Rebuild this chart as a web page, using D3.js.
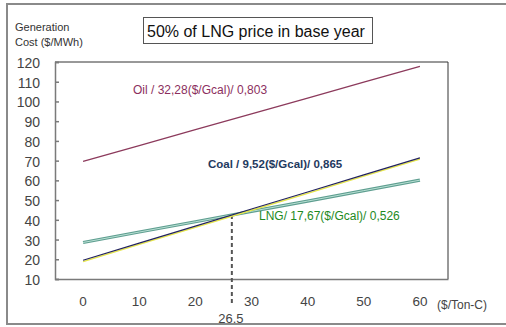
<!DOCTYPE html>
<html>
<head>
<meta charset="utf-8">
<script src="https://cdn.jsdelivr.net/npm/d3@7"></script>
<style>
  body { margin: 0; background: #fff; }
  text { font-family: "Liberation Sans", Arial, sans-serif; }
</style>
</head>
<body>
<div id="chart"></div>
<script>
const carbonPrice = [0, 10, 20, 30, 40, 50, 60];
const oilCost = [69.6, 77.6, 85.7, 93.7, 101.7, 109.8, 117.8];
const coalCost = [19.5, 28.2, 36.8, 45.5, 54.1, 62.8, 71.4];
const lngCost = [28.5, 33.8, 39.0, 44.3, 49.5, 54.8, 60.1];
const yTicks = [10, 20, 30, 40, 50, 60, 70, 80, 90, 100, 110, 120];
const breakEven = {x: 26.5, y: 42.4};

const chartWidth = 506;
const chartHeight = 327;
const plot = {left: 55, right: 448, top: 62, bottom: 279};

const svg = d3.select('#chart')
    .append('svg')
    .attr('width', chartWidth)
    .attr('height', chartHeight);

// outer frame
svg.append('rect')
    .attr('x', 7).attr('y', 4)
    .attr('width', 510).attr('height', 320)
    .attr('fill', 'none')
    .attr('stroke', '#8a8a8a')
    .attr('stroke-width', 2);

// category axis: 7 bands, points in the middle of each
const xScale = d3.scaleLinear()
    .domain([-5, 65])
    .range([plot.left, plot.right]);

const yScale = d3.scaleLinear()
    .domain([10, 120])
    .range([plot.bottom, plot.top]);

// plot border (top/right dark)
svg.append('path')
    .attr('d', `M${plot.left},${plot.top}H${plot.right}V${plot.bottom}`)
    .attr('fill', 'none')
    .attr('stroke', '#333')
    .attr('stroke-width', 1);

// y axis
const yAxis = svg.append('g')
    .attr('transform', `translate(${plot.left},0)`)
    .call(d3.axisRight(yScale).tickValues(yTicks).tickSize(4).tickFormat(''));
yAxis.select('.domain').attr('stroke', '#7a7a7a').attr('stroke-width', 1.5);
yAxis.selectAll('.tick line').attr('stroke', '#7a7a7a').attr('stroke-width', 1.5);

svg.selectAll('.ylab')
    .data(yTicks)
    .enter()
    .append('text')
    .attr('class', 'ylab')
    .attr('x', 40)
    .attr('y', d => yScale(d) + 6)
    .attr('text-anchor', 'end')
    .attr('font-size', 14)
    .attr('fill', '#444')
    .text(d => d);

// x axis
const xAxis = svg.append('g')
    .attr('transform', `translate(0,${plot.bottom})`)
    .call(d3.axisBottom(xScale).tickValues([]).tickSizeOuter(0));
xAxis.select('.domain').attr('stroke', '#7a7a7a').attr('stroke-width', 1.5);

svg.selectAll('.xlab')
    .data(carbonPrice)
    .enter()
    .append('text')
    .attr('class', 'xlab')
    .attr('x', d => xScale(d))
    .attr('y', 306)
    .attr('text-anchor', 'middle')
    .attr('font-size', 13.5)
    .attr('fill', '#444')
    .text(d => d);

svg.append('text')
    .attr('x', 437).attr('y', 309)
    .attr('font-size', 12)
    .attr('fill', '#444')
    .text('($/Ton-C)');

// break-even marker
svg.append('line')
    .attr('x1', xScale(breakEven.x)).attr('x2', xScale(breakEven.x))
    .attr('y1', yScale(breakEven.y)).attr('y2', 306)
    .attr('stroke', '#555')
    .attr('stroke-width', 2)
    .attr('stroke-dasharray', '4,3');

svg.append('text')
    .attr('x', xScale(breakEven.x) - 1).attr('y', 323)
    .attr('text-anchor', 'middle')
    .attr('font-size', 13)
    .attr('fill', '#444')
    .text(breakEven.x);

const line = d3.line()
    .x((d, i) => xScale(carbonPrice[i]))
    .y(d => yScale(d));

// LNG: double teal line
svg.append('path')
    .attr('d', line(lngCost))
    .attr('fill', 'none')
    .attr('stroke', '#5e9e90')
    .attr('stroke-width', 3.2);
svg.append('path')
    .attr('d', line(lngCost))
    .attr('fill', 'none')
    .attr('stroke', '#b9e0d4')
    .attr('stroke-width', 1);

// coal: navy with yellow underline
svg.append('path')
    .attr('d', line(coalCost))
    .attr('transform', 'translate(0,1.3)')
    .attr('fill', 'none')
    .attr('stroke', '#e6e64a')
    .attr('stroke-width', 1.4);
svg.append('path')
    .attr('d', line(coalCost))
    .attr('fill', 'none')
    .attr('stroke', '#23235e')
    .attr('stroke-width', 1.2);

// oil
svg.append('path')
    .attr('d', line(oilCost))
    .attr('fill', 'none')
    .attr('stroke', '#8c3a5c')
    .attr('stroke-width', 1.3);

// series labels
svg.append('text')
    .attr('x', 133).attr('y', 94)
    .attr('font-size', 12)
    .attr('fill', '#8c2f5e')
    .text('Oil / 32,28($/Gcal)/ 0,803');

svg.append('text')
    .attr('x', 208).attr('y', 168)
    .attr('font-size', 11.5)
    .attr('font-weight', 'bold')
    .attr('fill', '#1f3a60')
    .text('Coal / 9,52($/Gcal)/ 0,865');

svg.append('text')
    .attr('x', 259).attr('y', 220)
    .attr('font-size', 12)
    .attr('fill', '#1e8a1e')
    .text('LNG/ 17,67($/Gcal)/ 0,526');

// y axis title
svg.append('text')
    .attr('x', 15).attr('y', 31)
    .attr('font-size', 11)
    .attr('fill', '#333')
    .text('Generation');
svg.append('text')
    .attr('x', 15).attr('y', 46)
    .attr('font-size', 11)
    .attr('fill', '#333')
    .text('Cost ($/MWh)');

// title box
svg.append('rect')
    .attr('x', 143.5).attr('y', 17.5)
    .attr('width', 229).attr('height', 26)
    .attr('fill', '#fff')
    .attr('stroke', '#555')
    .attr('stroke-width', 1);
svg.append('text')
    .attr('x', 147).attr('y', 37)
    .attr('font-size', 16)
    .attr('fill', '#111')
    .text('50% of LNG price in base year');
</script>
</body>
</html>
